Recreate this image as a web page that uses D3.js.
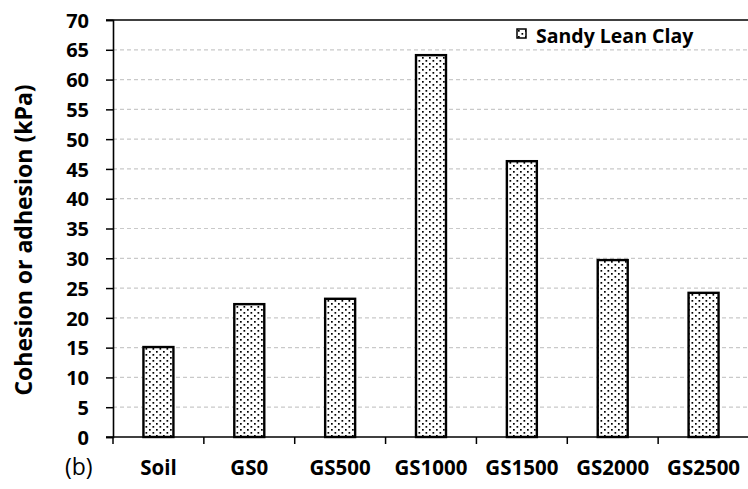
<!DOCTYPE html>
<html>
<head>
<meta charset="utf-8">
<script src="https://cdn.jsdelivr.net/npm/d3@7"></script>
<style>
  body { margin: 0; background: #fff; }
  text { font-family: "Open Sans", Lato, sans-serif; }
</style>
</head>
<body>
<div id="chart-area"></div>
<script>

// data
var categories = ["Soil", "GS0", "GS500", "GS1000", "GS1500", "GS2000", "GS2500"];
var cohesion = [15.1, 22.3, 23.2, 64.1, 46.3, 29.7, 24.2];
var yTicks = [0, 5, 10, 15, 20, 25, 30, 35, 40, 45, 50, 55, 60, 65, 70];
var seriesName = "Sandy Lean Clay";

var margin = {top: 20, right: -1, bottom: 52, left: 113};
var width = 748 - margin.left - margin.right,
    height = 489 - margin.top - margin.bottom;

var svg = d3.select("#chart-area").append("svg")
    .attr("width", 748)
    .attr("height", 489);

// dotted fill
var defs = svg.append("defs");
var pat = defs.append("pattern")
    .attr("id", "dots")
    .attr("patternUnits", "userSpaceOnUse")
    .attr("width", 7)
    .attr("height", 6);
pat.append("rect").attr("width", 7).attr("height", 6).attr("fill", "#fff");
pat.append("rect").attr("x", 1).attr("y", 1).attr("width", 1.7).attr("height", 1.7).attr("fill", "#000");
pat.append("rect").attr("x", 4.5).attr("y", 4).attr("width", 1.7).attr("height", 1.7).attr("fill", "#000");

var g = svg.append("g")
    .attr("transform", "translate(" + margin.left + "," + margin.top + ")");

// scales
var x = d3.scaleBand()
    .domain(categories)
    .range([0, width])
    .paddingInner(0.67)
    .paddingOuter(0.335);

var xb = d3.scaleBand().domain(categories).range([0, width]);

var y = d3.scaleLinear()
    .domain([0, 70])
    .range([height, 0]);

// gridlines
g.selectAll(".grid")
    .data(yTicks.filter(function(d) { return d > 0 && d < 70; }))
  .enter().append("line")
    .attr("class", "grid")
    .attr("x1", 0)
    .attr("x2", width)
    .attr("y1", function(d) { return y(d); })
    .attr("y2", function(d) { return y(d); })
    .attr("stroke", "#c9c9c9")
    .attr("stroke-width", 1.2)
    .attr("stroke-dasharray", "4,3");

// top border
g.append("line")
    .attr("x1", -7).attr("x2", width)
    .attr("y1", y(70)).attr("y2", y(70))
    .attr("stroke", "#000").attr("stroke-width", 1.5);

// bars
g.selectAll(".bar")
    .data(cohesion)
  .enter().append("rect")
    .attr("class", "bar")
    .attr("x", function(d, i) { return x(categories[i]); })
    .attr("width", x.bandwidth())
    .attr("y", function(d) { return y(d); })
    .attr("height", function(d) { return height - y(d); })
    .attr("fill", "url(#dots)")
    .attr("stroke", "#000")
    .attr("stroke-width", 2.4);

// y axis
var yAxis = d3.axisLeft(y).tickValues(yTicks).tickSize(7).tickPadding(17);
var yg = g.append("g").call(yAxis);
yg.select(".domain").attr("stroke-width", 1.6);
yg.selectAll(".tick line").attr("stroke-width", 1.5);
yg.selectAll(".tick text")
    .attr("font-size", 20)
    .attr("font-weight", "bold")
    .attr("fill", "#000")
    .attr("dy", "0.36em");

// x axis: ticks at band boundaries
var xg = g.append("g").attr("transform", "translate(0," + height + ")");
xg.append("line")
    .attr("x1", -7).attr("x2", width)
    .attr("stroke", "#000").attr("stroke-width", 1.5);
xg.selectAll(".xt")
    .data(categories)
  .enter().append("line")
    .attr("class", "xt")
    .attr("x1", function(d) { return xb(d); })
    .attr("x2", function(d) { return xb(d); })
    .attr("y1", 0).attr("y2", 7)
    .attr("stroke", "#000").attr("stroke-width", 1.5);
xg.selectAll(".xl")
    .data(categories)
  .enter().append("text")
    .attr("class", "xl")
    .attr("x", function(d) { return xb(d) + xb.bandwidth() / 2; })
    .attr("y", 38)
    .attr("text-anchor", "middle")
    .attr("font-size", 20.5)
    .attr("font-weight", "bold")
    .attr("fill", "#000")
    .text(function(d) { return d; });

// y title
svg.append("text")
    .attr("transform", "translate(32,240) rotate(-90)")
    .attr("text-anchor", "middle")
    .attr("font-size", 23)
    .attr("font-weight", "bold")
    .attr("fill", "#000")
    .text("Cohesion or adhesion (kPa)");

// panel label
svg.append("text")
    .attr("x", 65)
    .attr("y", 475)
    .attr("font-size", 23)
    .attr("fill", "#000")
    .text("(b)");

// legend
var lg = svg.append("g").attr("transform", "translate(517,29)");
lg.append("rect")
    .attr("width", 9).attr("height", 9)
    .attr("fill", "url(#dots)")
    .attr("stroke", "#000").attr("stroke-width", 1.5);
lg.append("text")
    .attr("x", 19)
    .attr("y", 14)
    .attr("font-size", 19.5)
    .attr("font-weight", "bold")
    .attr("fill", "#000")
    .text(seriesName);

</script>
</body>
</html>
